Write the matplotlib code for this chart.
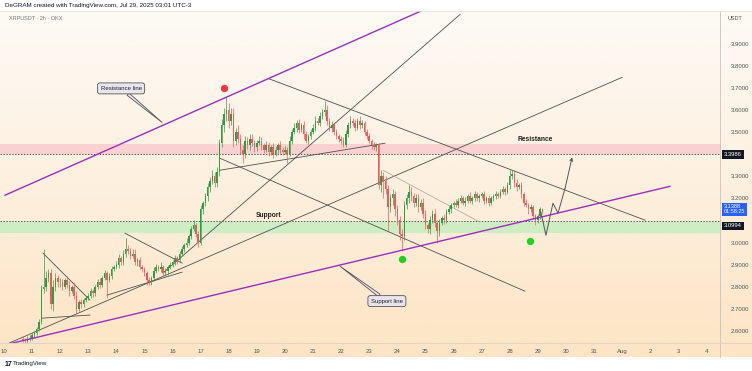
import numpy as np
import matplotlib
matplotlib.use('Agg')
import matplotlib.pyplot as plt
from matplotlib.colors import LinearSegmentedColormap

plt.rcParams['font.family'] = ['Liberation Sans', 'DejaVu Sans']

W, H = 752, 371

# ---- 2h candles, XRPUSDT (OKX) ----
t_start = 10 + 8 / 12      # Jul 10, 16:00
first_open = 2.565
close = [
    2.56, 2.555, 2.565, 2.57,                                              # Jul 10
    2.58, 2.59, 2.61, 2.64, 2.79, 2.80, 2.84, 2.86, 2.72, 2.80, 2.84, 2.82,  # 11
    2.82, 2.80, 2.83, 2.81, 2.78, 2.80, 2.76, 2.70, 2.73, 2.72, 2.74, 2.75,  # 12
    2.76, 2.78, 2.77, 2.80, 2.82, 2.81, 2.84, 2.86, 2.83, 2.85, 2.88, 2.89,  # 13
    2.90, 2.93, 2.91, 2.95, 2.97, 2.96, 2.94, 2.95, 2.91, 2.92, 2.89, 2.88,  # 14
    2.86, 2.83, 2.82, 2.84, 2.87, 2.89, 2.88, 2.89, 2.86, 2.87, 2.89, 2.90,  # 15
    2.91, 2.93, 2.92, 2.95, 2.97, 2.99, 3.00, 3.03, 3.06, 3.08, 3.04, 3.00,  # 16
    3.15, 3.18, 3.21, 3.25, 3.28, 3.30, 3.27, 3.32, 3.45, 3.53, 3.58, 3.60,  # 17
    3.55, 3.58, 3.46, 3.50, 3.47, 3.42, 3.40, 3.46, 3.44, 3.47, 3.45, 3.43,  # 18
    3.45, 3.46, 3.44, 3.42, 3.44, 3.41, 3.43, 3.40, 3.42, 3.44, 3.42, 3.41,  # 19
    3.42, 3.40, 3.46, 3.50, 3.52, 3.54, 3.51, 3.53, 3.49, 3.46, 3.48, 3.50,  # 20
    3.52, 3.55, 3.54, 3.57, 3.59, 3.60, 3.55, 3.52, 3.53, 3.50, 3.48, 3.47,  # 21
    3.46, 3.44, 3.49, 3.53, 3.55, 3.54, 3.52, 3.55, 3.53, 3.54, 3.50, 3.48,  # 22
    3.46, 3.44, 3.43, 3.44, 3.26, 3.30, 3.28, 3.24, 3.16, 3.20, 3.22, 3.15,  # 23
    3.10, 3.04, 3.03, 3.17, 3.20, 3.23, 3.21, 3.18, 3.20, 3.16, 3.18, 3.13,  # 24
    3.08, 3.06, 3.10, 3.13, 3.09, 3.05, 3.09, 3.11, 3.10, 3.14, 3.15, 3.17,  # 25
    3.18, 3.17, 3.19, 3.20, 3.18, 3.19, 3.21, 3.19, 3.20, 3.22, 3.20, 3.21,  # 26
    3.22, 3.19, 3.20, 3.18, 3.20, 3.21, 3.22, 3.21, 3.23, 3.24, 3.23, 3.26,  # 27
    3.30, 3.31, 3.27, 3.25, 3.26, 3.22, 3.18, 3.17, 3.15, 3.16, 3.12, 3.10,  # 28
    3.12, 3.15, 3.1388,                                                    # 29
]
# wick length above / below the body
wick_hi = [
    0.01, 0.008, 0.01, 0.01,
    0.01, 0.012, 0.01, 0.015, 0.02, 0.17, 0.03, 0.02, 0.02, 0.03, 0.02, 0.015,
    0.02, 0.015, 0.01, 0.02, 0.015, 0.01, 0.02, 0.02, 0.01, 0.015, 0.01, 0.01,
    0.01, 0.015, 0.01, 0.01, 0.015, 0.02, 0.01, 0.015, 0.01, 0.01, 0.015, 0.01,
    0.015, 0.02, 0.01, 0.015, 0.05, 0.02, 0.015, 0.02, 0.02, 0.01, 0.015, 0.01,
    0.01, 0.01, 0.015, 0.01, 0.02, 0.015, 0.01, 0.02, 0.01, 0.015, 0.01, 0.01,
    0.01, 0.015, 0.01, 0.01, 0.015, 0.01, 0.02, 0.01, 0.015, 0.02, 0.01, 0.01,
    0.02, 0.01, 0.015, 0.02, 0.015, 0.03, 0.02, 0.02, 0.02, 0.03, 0.03, 0.056,
    0.03, 0.03, 0.03, 0.02, 0.03, 0.02, 0.02, 0.02, 0.015, 0.02, 0.02, 0.015,
    0.015, 0.02, 0.015, 0.01, 0.02, 0.015, 0.01, 0.02, 0.015, 0.01, 0.02, 0.01,
    0.015, 0.01, 0.02, 0.015, 0.02, 0.015, 0.02, 0.01, 0.02, 0.015, 0.01, 0.015,
    0.015, 0.02, 0.015, 0.02, 0.015, 0.04, 0.02, 0.015, 0.02, 0.01, 0.015, 0.01,
    0.01, 0.015, 0.02, 0.015, 0.02, 0.015, 0.02, 0.015, 0.02, 0.015, 0.01, 0.015,
    0.015, 0.01, 0.015, 0.01, 0.01, 0.03, 0.02, 0.02, 0.02, 0.02, 0.02, 0.015,
    0.02, 0.02, 0.02, 0.02, 0.02, 0.03, 0.02, 0.015, 0.02, 0.02, 0.015, 0.02,
    0.015, 0.01, 0.02, 0.015, 0.02, 0.01, 0.015, 0.01, 0.02, 0.01, 0.015, 0.01,
    0.01, 0.015, 0.01, 0.015, 0.01, 0.015, 0.01, 0.02, 0.01, 0.015, 0.01, 0.01,
    0.01, 0.015, 0.01, 0.015, 0.01, 0.01, 0.015, 0.01, 0.01, 0.015, 0.01, 0.015,
    0.03, 0.02, 0.02, 0.015, 0.01, 0.015, 0.01, 0.015, 0.01, 0.015, 0.01, 0.01,
    0.01, 0.01, 0.005,
]
wick_lo = [
    0.01, 0.01, 0.008, 0.01,
    0.01, 0.01, 0.01, 0.01, 0.01, 0.02, 0.02, 0.02, 0.02, 0.03, 0.02, 0.02,
    0.02, 0.015, 0.01, 0.015, 0.02, 0.01, 0.015, 0.02, 0.01, 0.015, 0.01, 0.01,
    0.01, 0.01, 0.015, 0.01, 0.01, 0.015, 0.01, 0.01, 0.08, 0.01, 0.015, 0.01,
    0.01, 0.015, 0.01, 0.01, 0.015, 0.01, 0.015, 0.01, 0.01, 0.015, 0.01, 0.015,
    0.01, 0.02, 0.01, 0.01, 0.015, 0.01, 0.01, 0.015, 0.01, 0.01, 0.015, 0.01,
    0.01, 0.01, 0.015, 0.01, 0.01, 0.015, 0.01, 0.01, 0.015, 0.01, 0.015, 0.02,
    0.01, 0.02, 0.015, 0.02, 0.02, 0.015, 0.02, 0.02, 0.02, 0.02, 0.03, 0.03,
    0.03, 0.02, 0.03, 0.02, 0.02, 0.02, 0.04, 0.02, 0.015, 0.02, 0.015, 0.02,
    0.015, 0.01, 0.02, 0.015, 0.01, 0.02, 0.015, 0.02, 0.01, 0.015, 0.02, 0.015,
    0.01, 0.04, 0.01, 0.015, 0.01, 0.02, 0.015, 0.01, 0.02, 0.01, 0.015, 0.01,
    0.01, 0.015, 0.01, 0.015, 0.01, 0.02, 0.02, 0.015, 0.02, 0.015, 0.01, 0.015,
    0.015, 0.01, 0.01, 0.015, 0.01, 0.015, 0.015, 0.01, 0.015, 0.01, 0.015, 0.01,
    0.01, 0.015, 0.01, 0.015, 0.02, 0.03, 0.08, 0.02, 0.11, 0.02, 0.03, 0.03,
    0.02, 0.03, 0.07, 0.02, 0.02, 0.02, 0.02, 0.02, 0.015, 0.02, 0.015, 0.02,
    0.02, 0.015, 0.02, 0.01, 0.02, 0.05, 0.02, 0.01, 0.015, 0.01, 0.01, 0.015,
    0.01, 0.01, 0.015, 0.01, 0.01, 0.015, 0.01, 0.01, 0.015, 0.01, 0.01, 0.015,
    0.01, 0.015, 0.01, 0.015, 0.01, 0.01, 0.015, 0.01, 0.01, 0.01, 0.015, 0.01,
    0.02, 0.015, 0.02, 0.015, 0.01, 0.02, 0.015, 0.01, 0.02, 0.01, 0.015, 0.02,
    0.01, 0.015, 0.01,
]

# ---- drawings (day of July, price) ----
purple_lines = [((10.04, 3.214), (24.88, 4.049)),   # resistance line
                ((10.04, 2.537), (33.70, 3.254))]   # support line
gray_lines = [((10.04, 2.537), (32.00, 3.747)),
              ((15.66, 2.862), (26.23, 4.031)),
              ((19.40, 3.742), (32.82, 3.101)),
              ((17.69, 3.381), (28.54, 2.780)),
              ((17.69, 3.327), (23.56, 3.449)),
              ((11.39, 2.952), (13.06, 2.740)),
              ((11.36, 2.658), (13.06, 2.672)),
              ((13.67, 2.762), (16.34, 2.866)),
              ((14.31, 3.042), (16.34, 2.907))]
light_lines = [((23.49, 3.327), (26.94, 3.092))]
proj_t = [29.11, 29.29, 29.54, 29.72, 29.97, 30.22]
proj_p = [3.137, 3.033, 3.178, 3.133, 3.245, 3.385]

resist_zone = (3.400, 3.445)
support_zone = (3.045, 3.095)
resist_level = 3.3986
support_level = 3.0994
last_price = 3.1388

red_dot = (17.83, 3.697)
green_dots = [(24.17, 2.925), (28.72, 3.006)]

price_ticks = [2.6, 2.7, 2.8, 2.9, 3.0, 3.2, 3.3, 3.5, 3.6, 3.7, 3.8, 3.9]
day_ticks = list(range(10, 36))
day_labels = [str(d) for d in range(10, 32)] + ['Aug', '2', '3', '4']

UP, DOWN = '#2e9e44', '#f05a5f'

fig = plt.figure(figsize=(W / 100, H / 100), dpi=100)
fig.patch.set_facecolor('white')


def px_axes(x0, y0, x1, y1):
    return fig.add_axes([x0 / W, 1 - y1 / H, (x1 - x0) / W, (y1 - y0) / H])


# background gradient (chart + scales)
bg = px_axes(0, 11, 752, 357)
cmap = LinearSegmentedColormap.from_list('bg', ['#fdfaf5', '#fdf0df', '#fde4c4'])
bg.imshow(np.linspace(0, 1, 256).reshape(-1, 1), aspect='auto', cmap=cmap,
          extent=[0, 1, 0, 1], origin='upper')
bg.axis('off')

ax = px_axes(0, 11, 720, 343)
ax.patch.set_alpha(0)
ax.set_xlim(9.861, 35.484)
ax.set_ylim(2.5456, 4.047)

# zones and levels
ax.axhspan(*resist_zone, color='#f9c9cc', alpha=0.8, lw=0, zorder=1)
ax.axhspan(*support_zone, color='#c9eec0', alpha=0.9, lw=0, zorder=1)
for lvl in (resist_level, support_level):
    ax.axhline(lvl, color='#555555', lw=0.7, ls=(0, (1.5, 1.5)), zorder=2, clip_on=False)

# candles
closes = np.array(close)
opens = np.concatenate([[first_open], closes[:-1]])
t = t_start + np.arange(len(closes)) / 12
highs = np.maximum(opens, closes) + np.array(wick_hi)
lows = np.minimum(opens, closes) - np.array(wick_lo)
cols = np.where(closes >= opens, UP, DOWN)
ax.vlines(t, lows, highs, colors=cols, lw=0.5, zorder=4)
body = np.maximum(np.abs(closes - opens), 0.003)
ax.bar(t, body, bottom=np.minimum(opens, closes), width=0.055, color=cols, lw=0, zorder=4)

# trend lines
for (a, b) in purple_lines:
    ax.plot([a[0], b[0]], [a[1], b[1]], color='#9c2ec0', lw=1.0, zorder=5)
for (a, b) in gray_lines:
    ax.plot([a[0], b[0]], [a[1], b[1]], color='#505050', lw=0.6, zorder=3)
for (a, b) in light_lines:
    ax.plot([a[0], b[0]], [a[1], b[1]], color='#b5ada2', lw=0.6, zorder=3)

# projected path
ax.plot(proj_t[:-1], proj_p[:-1], color='#555555', lw=0.7, zorder=5)
ax.annotate('', xy=(proj_t[-1], proj_p[-1]), xytext=(proj_t[-2], proj_p[-2]),
            arrowprops=dict(arrowstyle='->', color='#555555', lw=0.7,
                            shrinkA=0, shrinkB=0, mutation_scale=5), zorder=5)

# markers
ax.scatter([red_dot[0]], [red_dot[1]], s=28, color='#f23645', zorder=6, lw=0)
ax.scatter([g[0] for g in green_dots], [g[1] for g in green_dots], s=28,
           color='#1fd11f', zorder=6, lw=0)

# texts
ax.text(28.90, 3.467, 'Resistance', fontsize=4.8, weight='bold', color='#222222',
        ha='center', va='center', zorder=7)
ax.text(19.43, 3.123, 'Support', fontsize=4.8, weight='bold', color='#222222',
        ha='center', va='center', zorder=7)
box = dict(boxstyle='round,pad=0.5,rounding_size=0.4', fc='#e9e4ef', ec='#555555', lw=0.6)
ax.annotate('Resistance line', xy=(15.63, 3.543), xytext=(14.17, 3.697),
            fontsize=4.3, ha='center', va='center', color='#222222', bbox=box,
            arrowprops=dict(arrowstyle='wedge,tail_width=0.5', fc='#e9e4ef',
                            ec='#555555', lw=0.6, shrinkA=0, shrinkB=0), zorder=7)
ax.annotate('Support line', xy=(21.96, 2.893), xytext=(23.63, 2.735),
            fontsize=4.3, ha='center', va='center', color='#222222', bbox=box,
            arrowprops=dict(arrowstyle='wedge,tail_width=0.5', fc='#e9e4ef',
                            ec='#555555', lw=0.6, shrinkA=0, shrinkB=0), zorder=7)

# axes / scales
for s in ax.spines.values():
    s.set_visible(False)
ax.yaxis.tick_right()
ax.set_yticks(price_ticks)
ax.set_yticklabels([f'{v:.4f}' for v in price_ticks])
ax.tick_params(axis='y', length=0, pad=8, labelsize=4.3, labelcolor='#555555')
ax.set_xticks(day_ticks)
ax.set_xticklabels(day_labels)
ax.tick_params(axis='x', length=0, pad=4, labelsize=4.3, labelcolor='#555555')

# price labels on the scale
trans = ax.get_yaxis_transform()
lab_x = 1.0055
ax.text(lab_x, resist_level, '3.3986', transform=trans, fontsize=4.2, color='white',
        va='center', ha='left', bbox=dict(boxstyle='square,pad=0.3', fc='#131722', ec='none'))
ax.text(lab_x, last_price + 0.012, '3.1388\n01:58:25', transform=trans, fontsize=4.0,
        color='white', va='center', ha='left', linespacing=1.0,
        bbox=dict(boxstyle='square,pad=0.3', fc='#2962ff', ec='none'))
ax.text(lab_x, support_level - 0.024, '3.0994', transform=trans, fontsize=4.2, color='white',
        va='center', ha='left', bbox=dict(boxstyle='square,pad=0.3', fc='#131722', ec='none'))

# separators
fig.add_artist(plt.Line2D([720 / W, 720 / W], [1 - 357 / H, 1 - 11 / H], color='#c8c3bc', lw=0.6))
fig.add_artist(plt.Line2D([0, 1], [1 - 343 / H, 1 - 343 / H], color='#d8d2ca', lw=0.6))
fig.add_artist(plt.Line2D([0, 1], [1 - 11 / H, 1 - 11 / H], color='#e6e2dc', lw=0.5))

# header / footer
fig.text(5 / W, 1 - 5 / H, 'DeGRAM created with TradingView.com, Jul 29, 2025 03:01 UTC-3',
         fontsize=4.5, color='#131722', va='center', ha='left')
fig.text(9 / W, 1 - 18 / H, 'XRPUSDT · 2h · OKX', fontsize=4.0, color='#777777',
         va='center', ha='left')
fig.text(728 / W, 1 - 18 / H, 'USDT', fontsize=4.0, color='#555555', va='center', ha='left')
fig.text(5 / W, 1 - 364 / H, '17', fontsize=5, weight='bold', color='#131722',
         va='center', ha='left')
fig.text(13 / W, 1 - 364 / H, 'TradingView', fontsize=4.5, color='#131722',
         va='center', ha='left')

fig.savefig('out.png', dpi=100, facecolor='white')
